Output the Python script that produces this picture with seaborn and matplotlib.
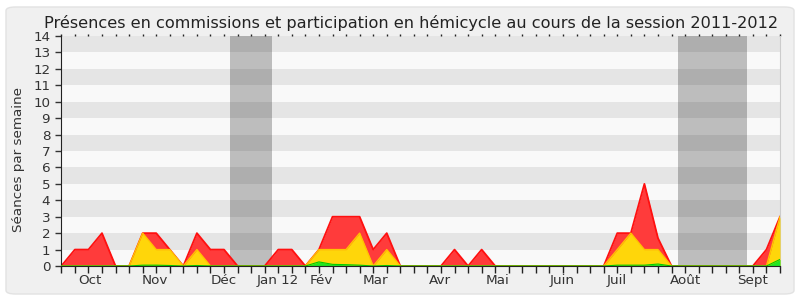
import numpy as np
import matplotlib
matplotlib.use("Agg")
import matplotlib.pyplot as plt
import seaborn as sns
from matplotlib.patches import FancyBboxPatch
from matplotlib.ticker import FixedLocator

# ---- data (weekly values, session 2011-2012) ----
weeks = list(range(54))
seances_total = [0, 1, 1, 2, 0, 0, 2, 2, 1, 0,
                 2, 1, 1, 0, 0, 0, 1, 1, 0, 1,
                 3, 3, 3, 1, 2, 0, 0, 0, 0, 1,
                 0, 1, 0, 0, 0, 0, 0, 0, 0, 0,
                 0, 2, 2, 5, 1.7, 0, 0, 0, 0, 0,
                 0, 0, 1, 3]
seances_commission = [0, 0, 0, 0, 0, 0, 2, 1, 1, 0,
                      1, 0, 0, 0, 0, 0, 0, 0, 0, 1,
                      1, 1, 2, 0, 1, 0, 0, 0, 0, 0,
                      0, 0, 0, 0, 0, 0, 0, 0, 0, 0,
                      0, 1, 2, 1, 1, 0, 0, 0, 0, 0,
                      0, 0, 0, 3]
interventions = [0, 0, 0, 0, 0, 0, 0.05, 0.05, 0.03, 0,
                 0.03, 0, 0, 0, 0, 0, 0, 0, 0, 0.25,
                 0.1, 0.08, 0.05, 0, 0.03, 0, 0, 0, 0, 0,
                 0, 0, 0, 0, 0, 0, 0, 0, 0, 0,
                 0, 0.05, 0.05, 0.05, 0.12, 0, 0, 0, 0, 0,
                 0, 0, 0, 0.4]
month_labels = ["Oct", "Nov", "Déc", "Jan 12", "Fév", "Mar", "Avr", "Mai",
                "Juin", "Juil", "Août", "Sept"]
month_pos = [2.14, 6.93, 11.95, 15.94, 19.15, 23.17, 27.96, 32.18,
             36.90, 40.96, 46.01, 50.97]
vacances = [(12.44, 15.54), (45.47, 50.56)]

plt.rcParams['font.family'] = ['DejaVu Sans']
fig = plt.figure(figsize=(8, 3), dpi=100)
fig.patch.set_facecolor('white')
bg = FancyBboxPatch((6 / 800, 6 / 300), 788 / 800, 287 / 300,
                    boxstyle="round,pad=0,rounding_size=0.012",
                    transform=fig.transFigure, facecolor='#f0f0f0',
                    edgecolor='#e2e2e2', linewidth=1.0, zorder=-10)
fig.patches.append(bg)

ax = fig.add_axes([61.3 / 800, 1 - 266 / 300, (780 - 61.3) / 800, (266 - 36) / 300])
ax.set_zorder(1)
ax.set_facecolor('#f9f9f9')

for k in range(1, 14, 2):
    ax.axhspan(k, k + 1, color='#e5e5e5', lw=0, zorder=0.5)
for a, b in vacances:
    ax.axvspan(a, b, color='black', alpha=0.24, lw=0, zorder=0.8)

ax.fill_between(weeks, seances_total, color='#ff3b3b', lw=0, zorder=2)
sns.lineplot(x=weeks, y=seances_total, ax=ax, color='#ff1010', linewidth=1.3, zorder=2.1)
ax.fill_between(weeks, seances_commission, color='#ffd60a', lw=0, zorder=3)
sns.lineplot(x=weeks, y=seances_commission, ax=ax, color='#ffc400', linewidth=1.0, zorder=3.1)
ax.fill_between(weeks, interventions, color='#22e622', lw=0, zorder=4)
sns.lineplot(x=weeks, y=interventions, ax=ax, color='#00cc00', linewidth=0.8, zorder=4.1)

ax.set_xlim(0, 53)
ax.set_ylim(0, 14)
ax.set_yticks(range(0, 15))
ax.set_yticklabels([str(v) for v in range(0, 15)])
ax.xaxis.set_major_locator(FixedLocator(month_pos))
ax.set_xticklabels(month_labels)
ax.xaxis.set_minor_locator(FixedLocator(weeks))
ax.tick_params(axis='x', which='major', length=0, pad=6, labelsize=9.7, colors='#333333')
ax.tick_params(axis='x', which='minor', length=5, width=1, direction='out',
               color='#222222', top=True, bottom=True)
ax.tick_params(axis='y', length=4, width=1, direction='out', pad=4,
               labelsize=9.7, colors='#333333')
for t in ax.xaxis.get_minor_ticks():
    t.tick2line.set_markersize(1.5)

ax.spines['top'].set_visible(False)
ax.spines['right'].set_color('#cccccc')
ax.spines['left'].set_color('#222222')
ax.spines['bottom'].set_color('#222222')
ax.spines['bottom'].set_zorder(5)

ax.set_xlabel('')
ax.set_ylabel('Séances par semaine', fontsize=9.7, color='#333333')
ax.yaxis.set_label_coords(-0.051, 0.465)
fig.text(0.514, 1 - 28.3 / 300,
         'Présences en commissions et participation en hémicycle au cours de la session 2011-2012',
         ha='center', va='baseline', fontsize=11.6, color='#222222')

fig.savefig('out.png', dpi=100, facecolor=fig.get_facecolor())
